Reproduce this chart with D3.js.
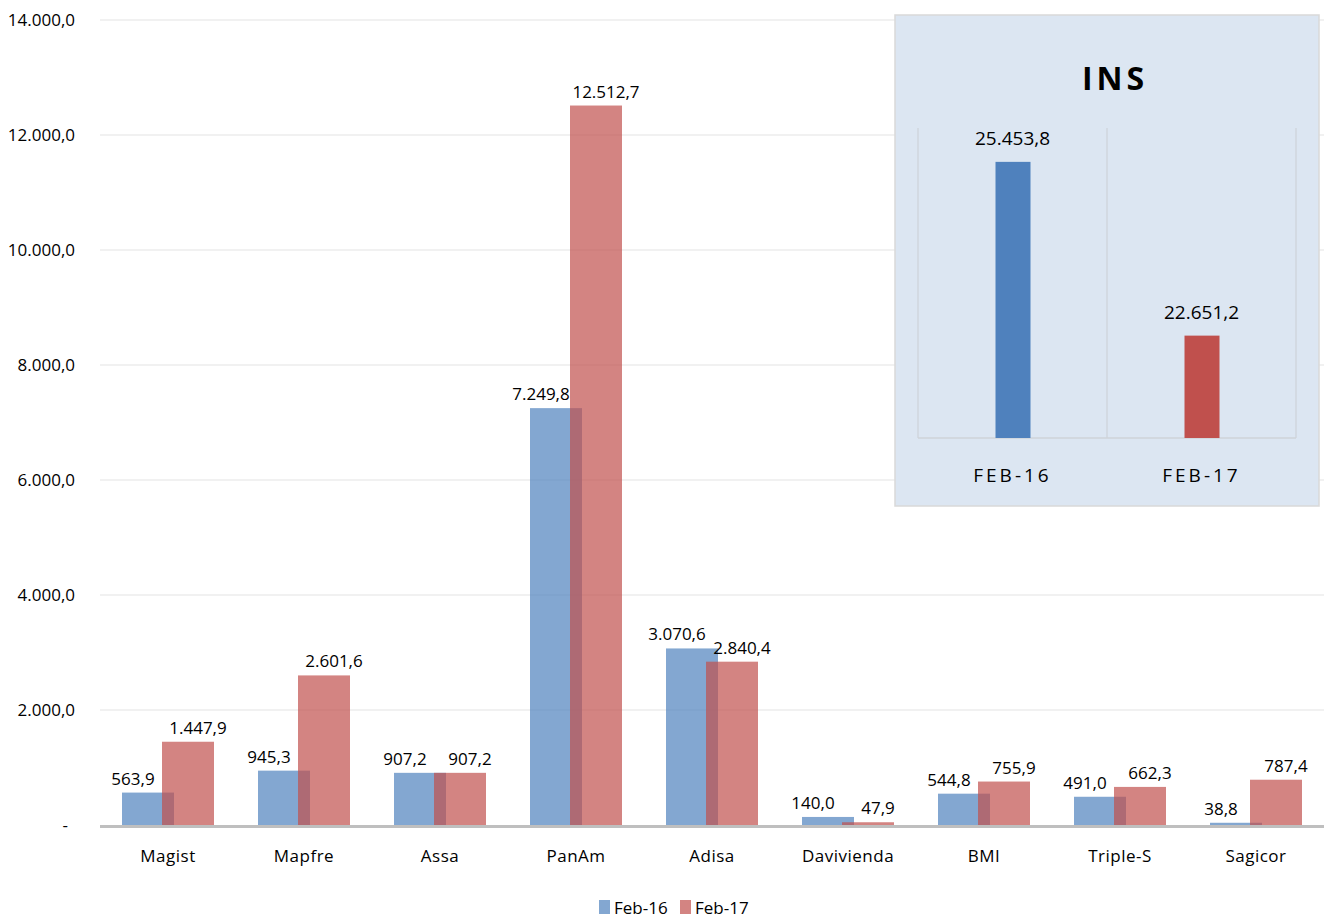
<!DOCTYPE html>
<html lang="es">
<head>
<meta charset="UTF-8">
<title>Primas por aseguradora</title>
<script src="https://d3js.org/d3.v7.min.js"></script>
<style>
    body { margin: 0; background: #fff; font-family: "Open Sans", sans-serif; }
    svg { display: block; }
</style>
</head>
<body>
<div id="chart"></div>
<script>
    const categories = ["Magist", "Mapfre", "Assa", "PanAm", "Adisa", "Davivienda", "BMI", "Triple-S", "Sagicor"];
    const feb16 = [563.9, 945.3, 907.2, 7249.8, 3070.6, 140.0, 544.8, 491.0, 38.8];
    const feb17 = [1447.9, 2601.6, 907.2, 12512.7, 2840.4, 47.9, 755.9, 662.3, 787.4];
    const yTicks = [0, 2000, 4000, 6000, 8000, 10000, 12000, 14000];
    const seriesNames = ["Feb-16", "Feb-17"];
    const insCategories = ["FEB-16", "FEB-17"];
    const insValues = [25453.8, 22651.2];

    const W = 1324, H = 918;
    const colors = ["#4f81bd", "#c0504d"];
    const loc = d3.formatLocale({ decimal: ",", thousands: ".", grouping: [3], currency: ["", ""] });
    const fmt = loc.format(",.1f");

    const svg = d3.select("#chart").append("svg").attr("width", W).attr("height", H);

    const x = d3.scaleBand().domain(categories).range([100, 1324]);
    const y = d3.scaleLinear().domain([0, 14000]).range([825, 20]);

    // gridlines
    svg.append("g").selectAll("line").data(yTicks.slice(1)).enter().append("line")
        .attr("x1", 100).attr("x2", W)
        .attr("y1", d => y(d)).attr("y2", d => y(d))
        .attr("stroke", "#ededed").attr("stroke-width", 1.5);

    // y axis labels
    svg.append("g").selectAll("text").data(yTicks).enter().append("text")
        .attr("x", d => d === 0 ? 68 : 75)
        .attr("y", d => y(d) + 6)
        .attr("text-anchor", "end")
        .style("font-size", "17px")
        .text(d => d === 0 ? "-" : fmt(d));

    const barW = 52, half = 46;
    const data = categories.map((c, i) => ({ c, a: feb16[i], b: feb17[i] }));

    // Feb-16 bars
    svg.append("g").selectAll("rect").data(data).enter().append("rect")
        .attr("x", d => x(d.c) + x.bandwidth() / 2 - half)
        .attr("width", barW)
        .attr("y", d => y(d.a)).attr("height", d => y(0) - y(d.a))
        .attr("fill", colors[0]).attr("fill-opacity", 0.7);

    // Feb-17 bars
    svg.append("g").selectAll("rect").data(data).enter().append("rect")
        .attr("x", d => x(d.c) + x.bandwidth() / 2 + half - barW)
        .attr("width", barW)
        .attr("y", d => y(d.b)).attr("height", d => y(0) - y(d.b))
        .attr("fill", colors[1]).attr("fill-opacity", 0.7);

    // labels
    svg.append("g").selectAll("text").data(data).enter().append("text")
        .attr("x", d => x(d.c) + x.bandwidth() / 2 - half + barW / 2 - 15)
        .attr("y", d => y(d.a) - 8)
        .attr("text-anchor", "middle").style("font-size", "17px")
        .text(d => fmt(d.a));
    svg.append("g").selectAll("text").data(data).enter().append("text")
        .attr("x", d => x(d.c) + x.bandwidth() / 2 + half - barW / 2 + 10)
        .attr("y", d => y(d.b) - 8)
        .attr("text-anchor", "middle").style("font-size", "17px")
        .text(d => fmt(d.b));

    // baseline
    svg.append("line").attr("x1", 100).attr("x2", W)
        .attr("y1", y(0) + 1.5).attr("y2", y(0) + 1.5)
        .attr("stroke", "#bfbfbf").attr("stroke-width", 3);

    // x labels
    svg.append("g").selectAll("text").data(categories).enter().append("text")
        .attr("x", d => x(d) + x.bandwidth() / 2)
        .attr("y", 862)
        .attr("text-anchor", "middle").style("font-size", "17px")
        .style("letter-spacing", "0.5px")
        .text(d => d);

    // legend
    const leg = svg.append("g").selectAll("g").data(seriesNames).enter().append("g")
        .attr("transform", (d, i) => `translate(${599 + i * 81},900)`);
    leg.append("rect").attr("width", 11).attr("height", 14)
        .attr("fill", (d, i) => colors[i]).attr("fill-opacity", 0.7);
    leg.append("text").attr("x", 15).attr("y", 14).style("font-size", "17px").text(d => d);

    // INS inset
    const ins = svg.append("g");
    ins.append("rect").attr("x", 895).attr("y", 15).attr("width", 424).attr("height", 491)
        .attr("fill", "#dce6f2").attr("stroke", "#d9d9d9").attr("stroke-width", 1.5);
    ins.append("text").attr("x", 1115).attr("y", 90).attr("text-anchor", "middle")
        .style("font-size", "32px").style("font-weight", "bold").style("letter-spacing", "4px")
        .text("INS");

    const xi = d3.scaleBand().domain(insCategories).range([918, 1296]);
    const yi = d3.scaleLinear().domain([21000, 26000]).range([438, 128]);

    ins.append("g").selectAll("line").data([918, 1107, 1296]).enter().append("line")
        .attr("x1", d => d).attr("x2", d => d).attr("y1", 128).attr("y2", 438)
        .attr("stroke", "#d0d6de").attr("stroke-width", 1.5);
    ins.append("line").attr("x1", 918).attr("x2", 1296).attr("y1", 438).attr("y2", 438)
        .attr("stroke", "#cfd3d8").attr("stroke-width", 1.5);

    ins.append("g").selectAll("rect").data(insValues).enter().append("rect")
        .attr("x", (d, i) => xi(insCategories[i]) + xi.bandwidth() / 2 - 17)
        .attr("width", 35)
        .attr("y", d => yi(d)).attr("height", d => yi.range()[0] - yi(d))
        .attr("fill", (d, i) => colors[i]);
    ins.append("g").selectAll("text").data(insValues).enter().append("text")
        .attr("x", (d, i) => xi(insCategories[i]) + xi.bandwidth() / 2)
        .attr("y", d => yi(d) - 17)
        .attr("text-anchor", "middle").style("font-size", "19px")
        .text(d => fmt(d));
    ins.append("g").selectAll("text.c").data(insCategories).enter().append("text")
        .attr("x", d => xi(d) + xi.bandwidth() / 2)
        .attr("y", 482)
        .attr("text-anchor", "middle").style("font-size", "19px")
        .style("letter-spacing", "3px")
        .text(d => d);
</script>
</body>
</html>
